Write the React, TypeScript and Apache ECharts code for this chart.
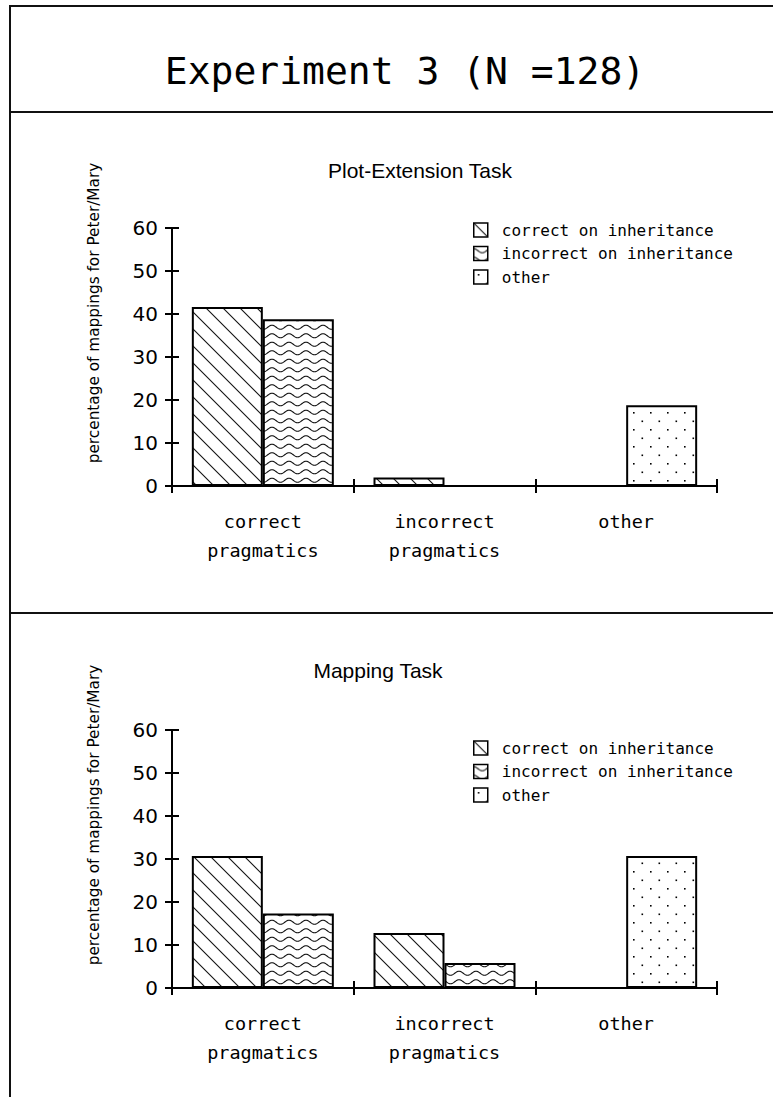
import React, { useEffect, useRef } from "react";
import * as echarts from "echarts";

const mainTitle = "Experiment 3 (N =128)";
const panelTitles = ["Plot-Extension Task", "Mapping Task"];
const yAxisTitle = "percentage of mappings for Peter/Mary";
const categories = ["correct\npragmatics", "incorrect\npragmatics", "other"];
const seriesNames = ["correct on inheritance", "incorrect on inheritance", "other"];
const yTicks = [0, 10, 20, 30, 40, 50, 60];

// Plot-Extension Task
const plotCorrect: (number | string)[] = [41.6, 2.0, "-"];
const plotIncorrect: (number | string)[] = [38.8, "-", "-"];
const plotOther: (number | string)[] = ["-", "-", 18.8];
// Mapping Task
const mapCorrect: (number | string)[] = [30.7, 12.8, "-"];
const mapIncorrect: (number | string)[] = [17.3, 5.8, "-"];
const mapOther: (number | string)[] = ["-", "-", 30.7];

const MONO = "'DejaVu Sans Mono', 'Liberation Mono', monospace";
const SANS = "'DejaVu Sans', 'Liberation Sans', sans-serif";

function tile(w: number, h: number, draw: (ctx: CanvasRenderingContext2D) => void) {
  const c = document.createElement("canvas");
  c.width = w;
  c.height = h;
  const ctx = c.getContext("2d") as CanvasRenderingContext2D;
  ctx.fillStyle = "#fff";
  ctx.fillRect(0, 0, w, h);
  draw(ctx);
  return { image: c.toDataURL(), repeat: "repeat", imageWidth: w, imageHeight: h };
}

function makePatterns() {
  const diag = tile(17, 17, (ctx) => {
    ctx.strokeStyle = "#111";
    ctx.lineWidth = 1.1;
    for (const off of [-17, 0, 17]) {
      ctx.beginPath();
      ctx.moveTo(off - 1, -1);
      ctx.lineTo(off + 18, 18);
      ctx.stroke();
    }
  });
  const wave = tile(17, 17, (ctx) => {
    ctx.strokeStyle = "#111";
    ctx.lineWidth = 1.1;
    for (const y0 of [4.25, 12.75]) {
      ctx.beginPath();
      for (let x = -1; x <= 18; x += 0.5) {
        const y = y0 - 2 * Math.cos((2 * Math.PI * x) / 17);
        if (x === -1) ctx.moveTo(x, y);
        else ctx.lineTo(x, y);
      }
      ctx.stroke();
    }
  });
  const dots = tile(17, 17, (ctx) => {
    ctx.fillStyle = "#000";
    ctx.fillRect(4, 4, 1.6, 1.6);
    ctx.fillRect(12.5, 12.5, 1.6, 1.6);
  });
  return [diag, wave, dots];
}

export default function App() {
  const ref = useRef<HTMLDivElement>(null);

  useEffect(() => {
    document.body.style.margin = "0";
    document.body.style.overflow = "hidden";
    if (!ref.current) return;
    const chart = echarts.init(ref.current, undefined, { renderer: "svg" });
    const patterns = makePatterns();

    const gridTops = [228, 730];
    const grids = gridTops.map((t) => ({ left: 172, top: t, width: 545, height: 258 }));

    const axisColor = "#000";
    const xAxes: any[] = [];
    const yAxes: any[] = [];
    gridTops.forEach((_, gi) => {
      xAxes.push({
        type: "category",
        gridIndex: gi,
        data: categories,
        position: "bottom",
        axisLine: { show: true, lineStyle: { color: axisColor, width: 2 } },
        axisTick: { show: true, length: 7, lineStyle: { color: axisColor, width: 2 } },
        axisLabel: {
          color: "#000",
          fontFamily: MONO,
          fontSize: 18.5,
          lineHeight: 29,
          margin: 21,
          interval: 0,
        },
        splitLine: { show: false },
      });
      xAxes.push({
        type: "category",
        gridIndex: gi,
        data: categories,
        position: "bottom",
        axisLine: { show: false },
        axisTick: { show: true, inside: true, length: 7, lineStyle: { color: axisColor, width: 2 } },
        axisLabel: { show: false },
        splitLine: { show: false },
      });
      const base = {
        type: "value",
        gridIndex: gi,
        min: yTicks[0],
        max: yTicks[yTicks.length - 1],
        interval: yTicks[1] - yTicks[0],
        position: "left",
        splitLine: { show: false },
      };
      yAxes.push({
        ...base,
        axisLine: { show: true, lineStyle: { color: axisColor, width: 2 } },
        axisTick: { show: true, length: 7, lineStyle: { color: axisColor, width: 2 } },
        axisLabel: { color: "#000", fontFamily: SANS, fontSize: 20, margin: 14 },
      });
      yAxes.push({
        ...base,
        axisLine: { show: false },
        axisTick: { show: true, inside: true, length: 7, lineStyle: { color: axisColor, width: 2 } },
        axisLabel: { show: false },
      });
    });

    const panelData = [
      [plotCorrect, plotIncorrect, plotOther],
      [mapCorrect, mapIncorrect, mapOther],
    ];
    const series: any[] = [];
    panelData.forEach((sets, gi) => {
      sets.forEach((data, si) => {
        series.push({
          type: "bar",
          name: seriesNames[si],
          xAxisIndex: gi * 2,
          yAxisIndex: gi * 2,
          data,
          stack: si === 0 ? undefined : "s" + gi,
          barWidth: 71,
          barGap: "0%",
          silent: true,
          itemStyle: { color: patterns[si], borderColor: "#000", borderWidth: 2 },
          emphasis: { disabled: true },
        });
      });
    });

    const legendTops = [222, 740];
    const legends = legendTops.map((t) => ({
      data: seriesNames,
      orient: "vertical",
      left: 473,
      top: t,
      padding: 0,
      itemWidth: 14,
      itemHeight: 14,
      itemGap: 7.5,
      icon: "rect",
      selectedMode: false,
      itemStyle: { borderColor: "#000", borderWidth: 1.5 },
      textStyle: { fontFamily: MONO, fontSize: 16, color: "#000", lineHeight: 16, padding: [0, 0, 0, 9] },
    }));

    const lineStyle = { stroke: "#111", lineWidth: 2 };
    const graphic: any[] = [
      { type: "line", shape: { x1: 9, y1: 6, x2: 773, y2: 6 }, style: lineStyle, silent: true },
      { type: "line", shape: { x1: 10, y1: 5, x2: 10, y2: 1097 }, style: lineStyle, silent: true },
      { type: "line", shape: { x1: 9, y1: 112, x2: 773, y2: 112 }, style: lineStyle, silent: true },
      { type: "line", shape: { x1: 9, y1: 613, x2: 773, y2: 613 }, style: lineStyle, silent: true },
      {
        type: "text",
        x: 405,
        y: 71,
        silent: true,
        style: { text: mainTitle, fontFamily: MONO, fontSize: 38, fill: "#000", align: "center", verticalAlign: "middle" },
      },
      {
        type: "text",
        x: 420,
        y: 170,
        silent: true,
        style: { text: panelTitles[0], fontFamily: "'Liberation Sans', sans-serif", fontSize: 21, fill: "#000", align: "center", verticalAlign: "middle" },
      },
      {
        type: "text",
        x: 378,
        y: 670,
        silent: true,
        style: { text: panelTitles[1], fontFamily: "'Liberation Sans', sans-serif", fontSize: 21, fill: "#000", align: "center", verticalAlign: "middle" },
      },
      ...gridTops.map((t) => ({
        type: "text",
        x: 94,
        y: t + 85,
        rotation: Math.PI / 2,
        silent: true,
        style: { text: yAxisTitle, fontFamily: SANS, fontSize: 15.3, fill: "#000", align: "center", verticalAlign: "middle" },
      })),
    ];

    chart.setOption({
      animation: false,
      backgroundColor: "#fff",
      grid: grids,
      xAxis: xAxes,
      yAxis: yAxes,
      legend: legends,
      series,
      graphic,
    });

    return () => {
      chart.dispose();
    };
  }, []);

  return <div ref={ref} style={{ width: 773, height: 1097 }} />;
}
